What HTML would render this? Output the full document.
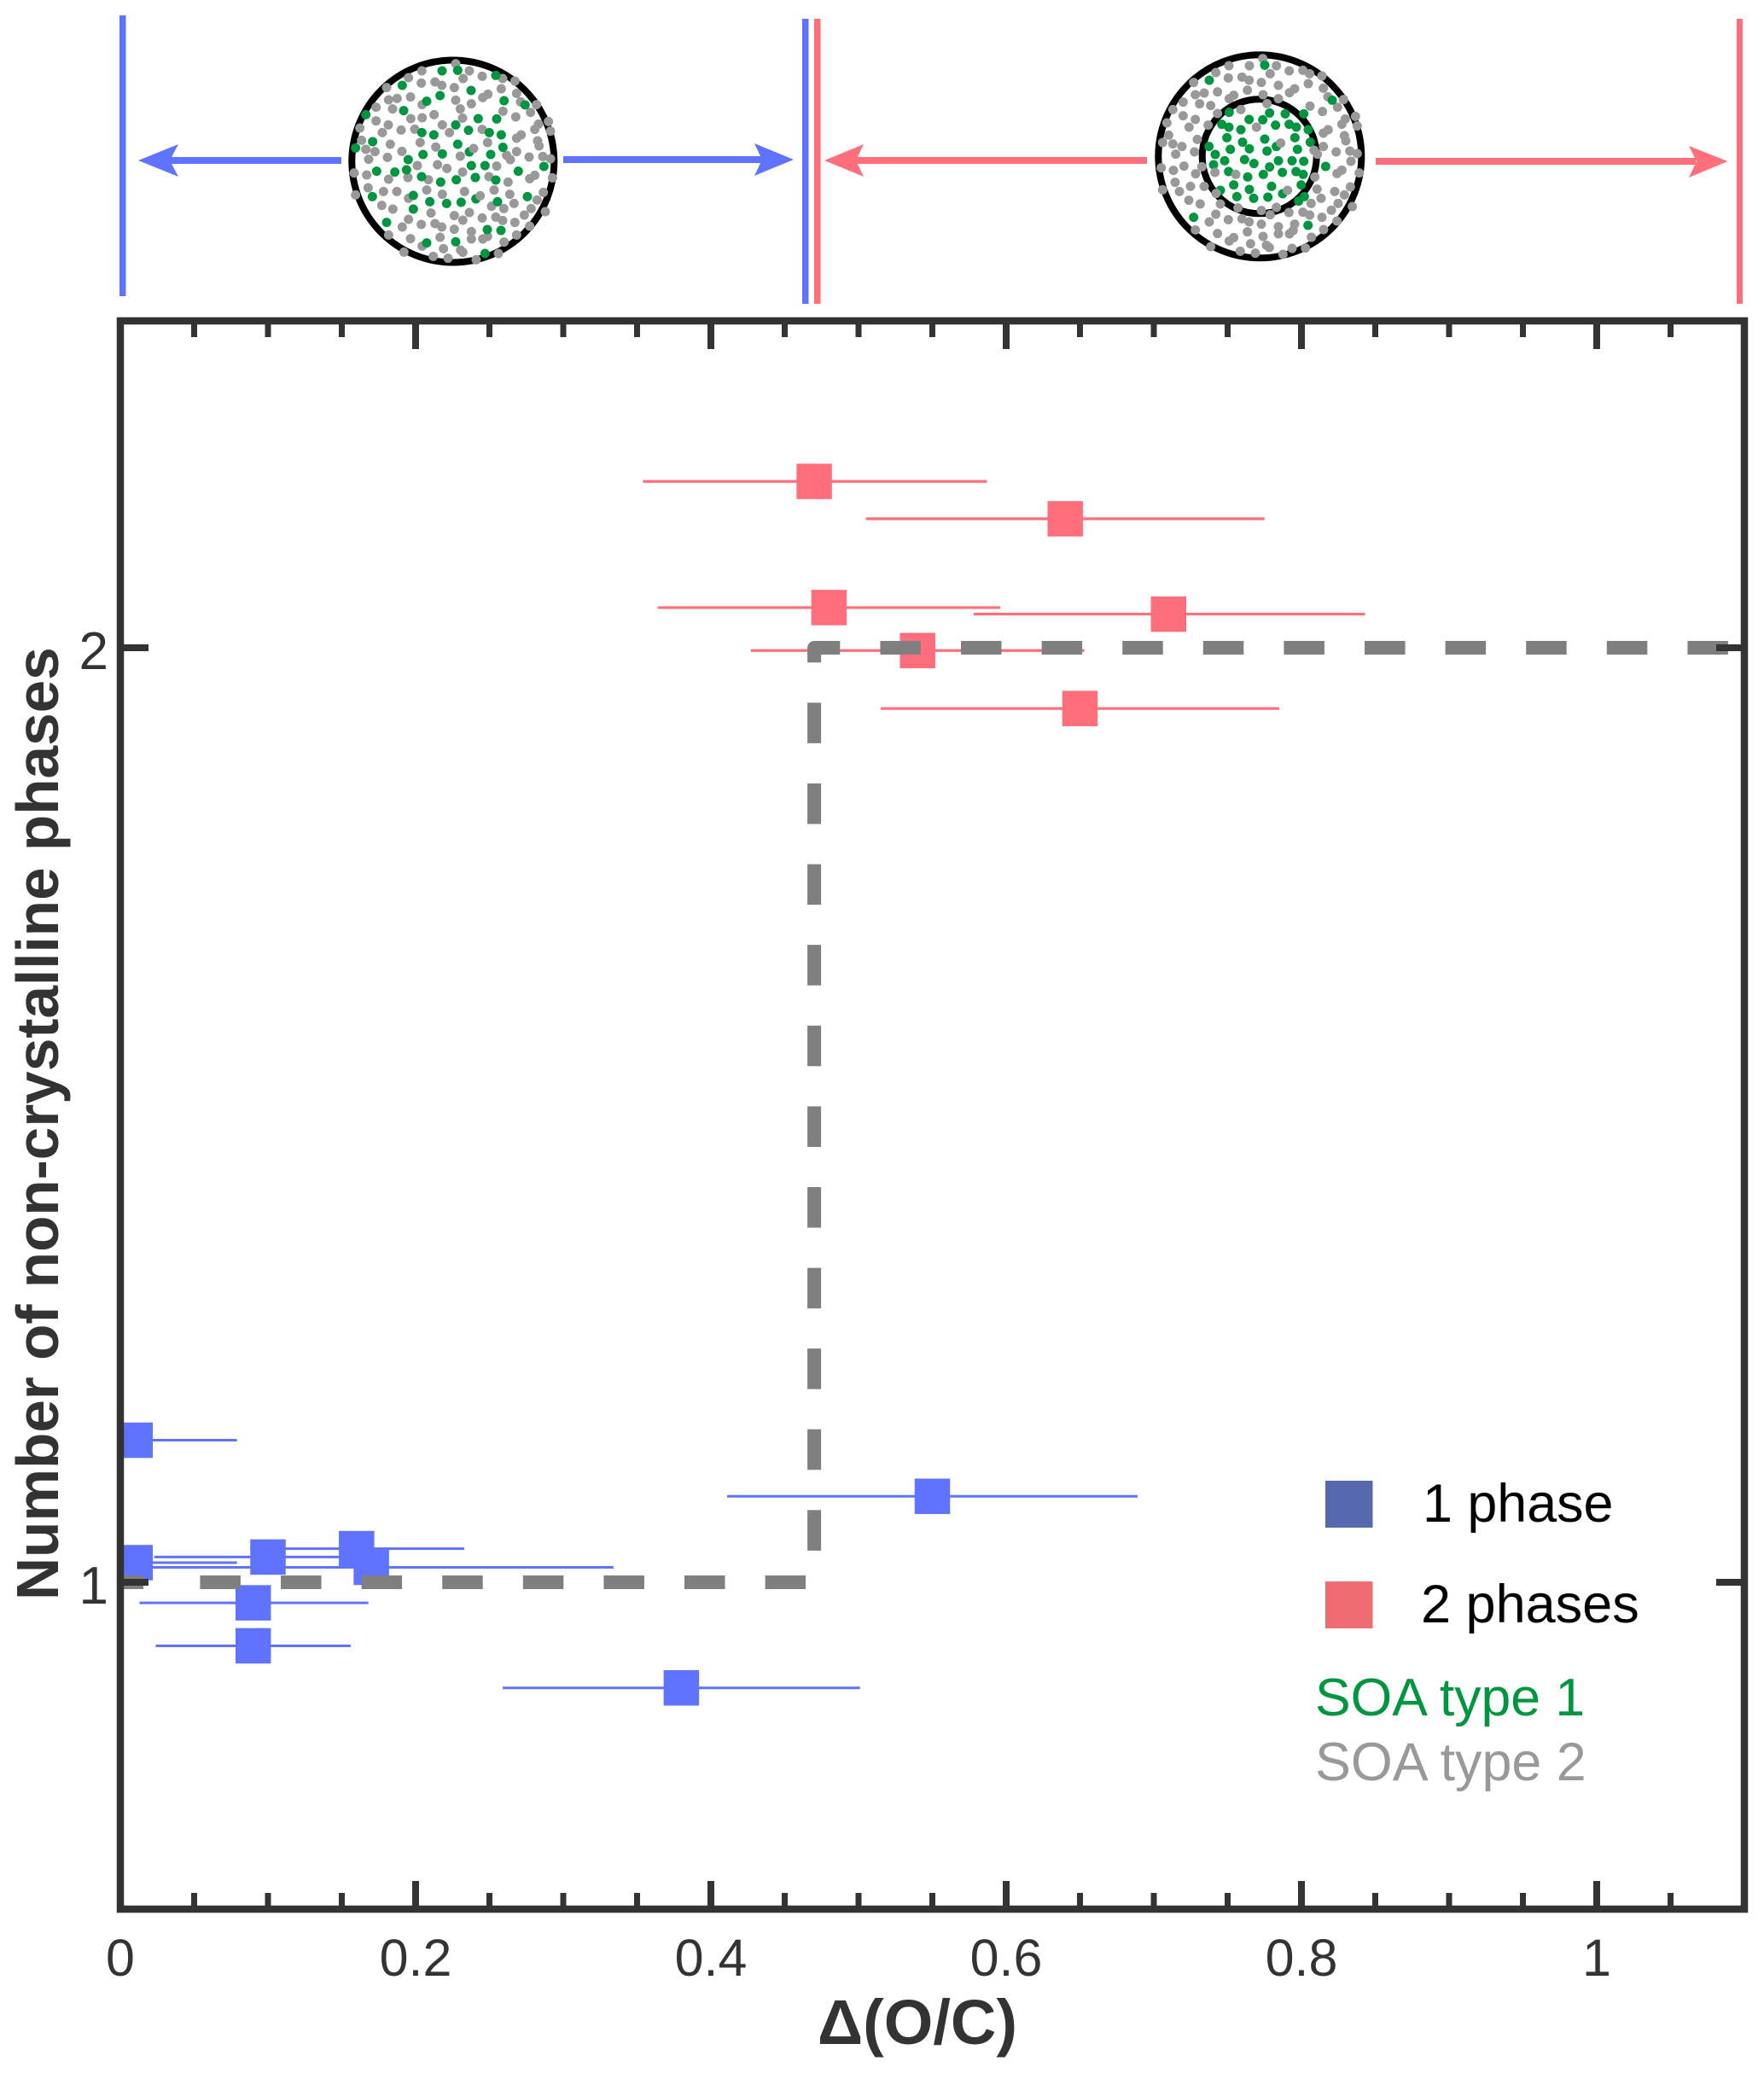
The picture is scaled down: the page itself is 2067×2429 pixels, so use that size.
<!DOCTYPE html>
<html lang="en">
<head>
<meta charset="utf-8">
<title>Number of non-crystalline phases vs Δ(O/C)</title>
<style>
html,body{margin:0;padding:0;background:#fff;}
body{width:2067px;height:2429px;overflow:hidden;}
svg{display:block;font-family:"Liberation Sans",Arial,sans-serif;}
</style>
</head>
<body>
<svg id="chart" xmlns="http://www.w3.org/2000/svg" width="2067" height="2429" viewBox="0 0 2067 2429">
  <rect x="0" y="0" width="2067" height="2429" fill="#ffffff"/>

  <g>
    <rect x="140" y="18" width="7.5" height="329" fill="#5F73FF"/>
    <rect x="940" y="22" width="7.5" height="334" fill="#5F73FF"/>
    <rect x="954" y="22" width="7.5" height="334" fill="#FF6F7B"/>
    <rect x="2035" y="22" width="7" height="334" fill="#FF6F7B"/>

    <g fill="#5F73FF">
      <rect x="195" y="184" width="205" height="8"/>
      <polygon points="162,188 209,169 199,188 209,207"/>
    </g>
    <g fill="#5F73FF">
      <rect x="660" y="183" width="235" height="8"/>
      <polygon points="930,187 884,168 893,187 884,206"/>
    </g>
    <g fill="#FF6F7B">
      <rect x="1000" y="184" width="344" height="8"/>
      <polygon points="966,188 1012,169 1003,188 1012,207"/>
    </g>
    <g fill="#FF6F7B">
      <rect x="1612" y="185" width="375" height="8"/>
      <polygon points="2024.5,189 1979,171 1988,189 1979,208"/>
    </g>

    <g>
      <circle cx="530.8" cy="189" r="118.5" fill="#fff" stroke="#000" stroke-width="8"/>
      <g transform="translate(380 50) scale(0.33333)" fill="none" stroke-linecap="round" stroke-width="33">
        <path stroke="#999999" d="M462 74h0M510 99h0M343 99h0M296 123h0M488 126h0M555 118h0M627 126h0M670 135h0M219 158h0M341 142h0M389 138h0M413 150h0M457 158h0M622 162h0M676 178h0M303 191h0M256 196h0M226 201h0M462 202h0M575 181h0M557 193h0M690 208h0M746 218h0M182 227h0M240 233h0M344 218h0M517 215h0M478 233h0M725 245h0M628 241h0M673 261h0M386 253h0M344 264h0M304 267h0M486 265h0M182 275h0M225 289h0M125 300h0M788 277h0M753 286h0M740 305h0M795 311h0M204 316h0M270 307h0M318 304h0M415 289h0M440 316h0M555 305h0M692 324h0M676 336h0M131 343h0M232 357h0M337 351h0M574 351h0M750 345h0M755 363h0M392 367h0M146 375h0M178 383h0M273 382h0M676 383h0M641 396h0M654 411h0M720 402h0M768 400h0M795 408h0M156 410h0M222 403h0M478 399h0M327 432h0M398 429h0M431 442h0M606 434h0M105 458h0M149 465h0M226 480h0M294 474h0M366 482h0M486 455h0M579 471h0M740 466h0M722 478h0M802 475h0M646 490h0M154 510h0M110 535h0M208 523h0M255 523h0M360 518h0M415 533h0M493 523h0M597 518h0M652 533h0M770 526h0M296 547h0M748 553h0M202 572h0M241 585h0M588 575h0M631 583h0M667 565h0M727 583h0M777 594h0M375 599h0M510 597h0M457 608h0M703 606h0M296 621h0M555 616h0M603 613h0M627 625h0M487 624h0M670 632h0M274 648h0M341 639h0M389 636h0M413 648h0M722 645h0M457 656h0M517 664h0M226 676h0M676 676h0M303 689h0M407 684h0M517 690h0M574 681h0M557 690h0M632 701h0M344 715h0M419 724h0M479 729h0M487 737h0M280 736h0M383 751h0M435 758h0M612 741h0M534 763h0"/>
        <path stroke="#009640" d="M414 99h0M469 97h0M603 115h0M274 150h0M516 168h0M407 186h0M360 206h0M632 204h0M706 219h0M279 239h0M146 253h0M541 267h0M606 268h0M462 289h0M507 308h0M343 316h0M385 324h0M580 316h0M622 324h0M170 348h0M469 357h0M628 368h0M110 370h0M510 384h0M347 393h0M415 391h0M585 393h0M295 411h0M517 432h0M565 432h0M289 447h0M184 452h0M248 455h0M682 452h0M772 435h0M342 471h0M531 474h0M464 482h0M409 490h0M603 483h0M313 537h0M169 541h0M714 541h0M533 549h0M371 559h0M430 565h0M481 561h0M609 559h0M313 585h0M219 632h0M573 657h0M621 660h0M462 700h0M360 704h0M565 741h0"/>
        <path stroke="#999999" d="M525 372h0M548 538h0"/>
      </g>
    </g>

    <g>
      <circle cx="1476.3" cy="183.3" r="119" fill="#fff" stroke="#000" stroke-width="8"/>
      <circle cx="1475.7" cy="183.3" r="67" fill="#fff" stroke="#000" stroke-width="8"/>
      <g transform="translate(1330 50) scale(0.33333)" fill="none" stroke-linecap="round" stroke-width="33">
        <path stroke="#009640" d="M331 245h0M473 247h0M528 250h0M593 250h0M401 270h0M449 271h0M305 287h0M330 297h0M494 290h0M542 287h0M567 297h0M609 306h0M372 306h0M323 334h0M562 334h0M456 339h0M378 350h0M616 350h0M260 365h0M497 365h0M402 373h0M335 375h0M464 381h0M571 375h0M282 393h0M385 411h0M315 415h0M504 415h0M552 415h0M593 417h0M418 425h0M276 429h0M473 437h0M329 453h0M518 456h0M566 453h0M591 463h0M451 463h0M396 472h0M584 500h0M347 500h0M480 505h0M402 516h0M300 519h0M519 531h0M358 541h0M467 543h0M417 547h0M595 541h0M575 557h0"/>
        <path stroke="#999999" d="M449 56h0M497 81h0M330 81h0M402 81h0M284 105h0M475 109h0M542 99h0M590 97h0M614 109h0M657 117h0M206 140h0M328 124h0M376 121h0M401 132h0M444 140h0M609 144h0M662 160h0M290 173h0M243 177h0M212 183h0M395 167h0M504 150h0M561 162h0M543 176h0M678 190h0M733 200h0M347 185h0M331 197h0M450 183h0M504 197h0M169 209h0M227 215h0M266 221h0M464 214h0M615 223h0M712 227h0M372 235h0M659 242h0M133 235h0M169 257h0M290 249h0M212 270h0M112 282h0M775 259h0M739 268h0M727 287h0M781 293h0M190 297h0M257 290h0M427 297h0M679 306h0M662 318h0M118 325h0M219 340h0M97 351h0M133 356h0M165 365h0M736 327h0M741 345h0M512 353h0M209 384h0M143 392h0M662 365h0M629 378h0M641 392h0M707 384h0M755 381h0M781 390h0M759 417h0M92 440h0M135 449h0M172 434h0M235 436h0M213 461h0M281 456h0M354 463h0M727 448h0M710 460h0M788 458h0M632 472h0M141 491h0M97 517h0M195 505h0M243 505h0M156 523h0M536 519h0M285 530h0M640 515h0M702 523h0M757 507h0M736 535h0M189 554h0M229 567h0M300 567h0M654 547h0M619 565h0M714 565h0M362 581h0M444 590h0M497 579h0M475 605h0M541 597h0M690 589h0M764 576h0M590 596h0M614 606h0M284 603h0M657 614h0M261 630h0M328 622h0M376 619h0M401 630h0M444 638h0M504 647h0M561 638h0M710 627h0M212 658h0M504 672h0M556 660h0M543 672h0M663 657h0M290 671h0M395 665h0M450 681h0M620 684h0M347 685h0M331 697h0M406 707h0M462 712h0M472 720h0M266 717h0M370 733h0M423 740h0M552 723h0M599 722h0M520 744h0"/>
        <path stroke="#009640" d="M456 79h0M261 132h0M693 202h0M670 435h0M206 614h0M608 642h0"/>
      </g>
    </g>
  </g>

  <g id="error-bars"></g>
  <g id="markers"></g>
  <g id="step-line"></g>
  <g id="axes"></g>

  <text x="1075" y="2395" text-anchor="middle" font-size="74" font-weight="700" fill="#333333">Δ(O/C)</text>
  <text transform="translate(68 1875) rotate(-90)" x="0" y="0" font-size="69.3" font-weight="700" fill="#333333">Number of non-crystalline phases</text>

  <g>
    <rect x="1553" y="1735" width="55.5" height="55" fill="#5669AE"/>
    <text x="1667" y="1783" font-size="62.8" fill="#000000">1 phase</text>
    <rect x="1553" y="1853" width="55.5" height="55" fill="#EE6C72"/>
    <text x="1665" y="1901" font-size="63" fill="#000000">2 phases</text>
    <text x="1541" y="2010" font-size="62.5" fill="#009640">SOA type 1</text>
    <text x="1541" y="2086" font-size="62.8" fill="#999999">SOA type 2</text>
  </g>
</svg>

<script>
const onePhaseX = [0.010, 0.010, 0.100, 0.160, 0.170, 0.090, 0.090, 0.380, 0.550];
const onePhaseY = [1.152, 1.021, 1.027, 1.036, 1.016, 0.978, 0.932, 0.887, 1.092];
const onePhaseXLow = [0.000, 0.000, 0.023, 0.088, 0.006, 0.013, 0.024, 0.259, 0.411];
const onePhaseXHigh = [0.079, 0.079, 0.177, 0.233, 0.334, 0.168, 0.156, 0.501, 0.689];
const twoPhaseX = [0.470, 0.640, 0.480, 0.710, 0.540, 0.650];
const twoPhaseY = [2.178, 2.138, 2.043, 2.036, 1.997, 1.935];
const twoPhaseXLow = [0.354, 0.505, 0.364, 0.578, 0.427, 0.515];
const twoPhaseXHigh = [0.587, 0.775, 0.596, 0.843, 0.653, 0.785];
const stepX = [0.054, 0.47, 0.47, 1.1];
const stepY = [1, 1, 2, 2];
const stepStubX = [0, 0.0156];
const stepStubY = [1, 1];
const xMajorTicks = [0, 0.2, 0.4, 0.6, 0.8, 1];
const xMajorLabels = ["0", "0.2", "0.4", "0.6", "0.8", "1"];
const xMinorTicks = [0.05, 0.1, 0.15, 0.25, 0.3, 0.35, 0.45, 0.5, 0.55, 0.65, 0.7, 0.75, 0.85, 0.9, 0.95, 1.05];
const yTicks = [1, 2];
const yLabels = ["1", "2"];

const SVG_NS = "http://www.w3.org/2000/svg";
const plotLeft = 141, plotRight = 2044, plotTop = 376, plotBottom = 2237;
const markerSize = 41.5;
const axisColor = "#333333";

function xScale(v) { return 141 + v * 1730; }
function yScale(v) { return 1854 - (v - 1) * 1095; }
function make(tag, parent, props) {
  const el = document.createElementNS(SVG_NS, tag);
  for (const k in props) el.setAttribute(k, props[k]);
  parent.appendChild(el);
  return el;
}

const errorLayer = document.getElementById("error-bars");
const markerLayer = document.getElementById("markers");
const stepLayer = document.getElementById("step-line");
const axesLayer = document.getElementById("axes");

function drawSeries(xs, ys, lows, highs, color, errorWidth, prefix) {
  xs.forEach(function (xv, i) {
    const line = make("line", errorLayer, {
      x1: xScale(lows[i]), x2: xScale(highs[i]),
      y1: yScale(ys[i]), y2: yScale(ys[i]),
      stroke: color, "stroke-width": errorWidth
    });
    
    
    const square = make("rect", markerLayer, {
      x: xScale(xv) - markerSize / 2, y: yScale(ys[i]) - markerSize / 2,
      width: markerSize, height: markerSize, fill: color
    });
    
    
  });
}
drawSeries(onePhaseX, onePhaseY, onePhaseXLow, onePhaseXHigh, "#5F73FF", 3, "one-phase");
drawSeries(twoPhaseX, twoPhaseY, twoPhaseXLow, twoPhaseXHigh, "#FF6F7B", 3.2, "two-phase");

const stepPoints = stepX.map(function (v, i) { return xScale(v) + "," + yScale(stepY[i]); }).join(" ");
const stepPath = make("polyline", stepLayer, {
  points: stepPoints, fill: "none", stroke: "#7F7F7F", "stroke-width": 16,
  "stroke-dasharray": "47.5 47.1", "stroke-linejoin": "round"
});


const stepStub = make("line", stepLayer, {
  x1: xScale(stepStubX[0]), x2: xScale(stepStubX[1]),
  y1: yScale(stepStubY[0]), y2: yScale(stepStubY[1]),
  stroke: "#7F7F7F", "stroke-width": 16
});



function xTick(v, len, width) {
  const top = make("line", axesLayer, {
    x1: xScale(v), x2: xScale(v), y1: plotTop, y2: plotTop + len,
    stroke: axisColor, "stroke-width": width
  });
  
  
  const bottom = make("line", axesLayer, {
    x1: xScale(v), x2: xScale(v), y1: plotBottom, y2: plotBottom - len,
    stroke: axisColor, "stroke-width": width
  });
  
  
}
xMinorTicks.forEach(function (v) { xTick(v, 19, 7); });
xMajorTicks.forEach(function (v, i) {
  xTick(v, 33, 8);
  const label = make("text", axesLayer, {
    x: xScale(v), y: 2315, "text-anchor": "middle", "font-size": 61, fill: axisColor
  });
  label.textContent = xMajorLabels[i];
  
  
});

yTicks.forEach(function (v, i) {
  const left = make("line", axesLayer, {
    x1: plotLeft, x2: plotLeft + 33, y1: yScale(v), y2: yScale(v),
    stroke: axisColor, "stroke-width": 8
  });
  
  
  const right = make("line", axesLayer, {
    x1: plotRight, x2: plotRight - 33, y1: yScale(v), y2: yScale(v),
    stroke: axisColor, "stroke-width": 8
  });
  
  
  const label = make("text", axesLayer, {
    x: 127, y: yScale(v) + 25, "text-anchor": "end", "font-size": 62, fill: axisColor
  });
  label.textContent = yLabels[i];
  
  
});

const frame = make("rect", axesLayer, {
  x: plotLeft, y: plotTop, width: plotRight - plotLeft, height: plotBottom - plotTop,
  fill: "none", stroke: axisColor, "stroke-width": 8.5
});


</script>
</body>
</html>
